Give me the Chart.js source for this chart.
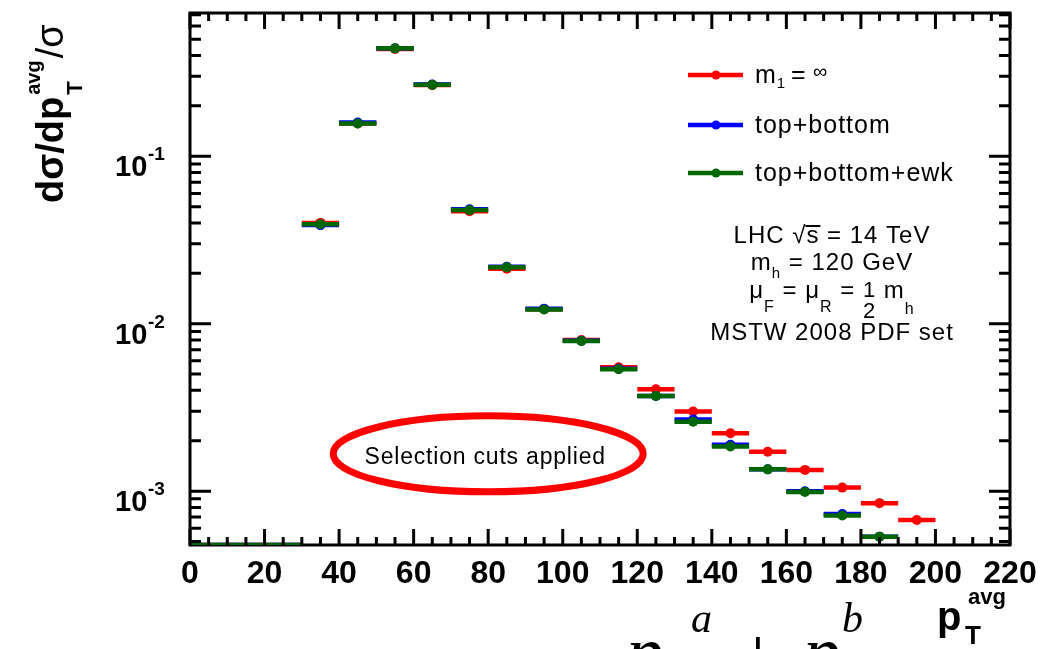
<!DOCTYPE html>
<html>
<head>
<meta charset="utf-8">
<script src="https://cdn.jsdelivr.net/npm/chart.js@4.4.1/dist/chart.umd.min.js"></script>
<style>
  html, body { margin: 0; padding: 0; background: #fff; }
  #wrap { width: 1050px; height: 649px; }
</style>
</head>
<body>
<div id="wrap"><canvas id="ptAvgChart" width="1050" height="649"></canvas></div>
<script>
const FONT = '"Liberation Sans", Arial, sans-serif';
const SERIF = '"Liberation Serif", "DejaVu Serif", serif';

// p_T^avg bins, 10 GeV wide
const binLow = [0, 10, 20, 30, 40, 50, 60, 70, 80, 90, 100, 110, 120, 130, 140, 150, 160, 170, 180, 190];
const BIN_WIDTH = 10;

// axis range
const Y_MIN = 4.77e-4;
const Y_MAX = 0.717;
const X_MAX = 220;

// first three bins sit on the lower edge of the frame
const mtInfinite = [4.77e-4, 4.77e-4, 4.77e-4, 0.0400, 0.157, 0.437, 0.266, 0.0470, 0.0213, 0.0122, 0.0080,
  0.0055, 0.00406, 0.00299, 0.00222, 0.00172, 0.00134, 0.00105, 0.000848, 0.000673];
const topBottom = [4.77e-4, 4.77e-4, 4.77e-4, 0.0388, 0.159, 0.442, 0.268, 0.0483, 0.0219, 0.0123, 0.0079,
  0.00538, 0.0037, 0.00268, 0.00189, 0.00135, 0.0010, 0.00073, 0.000535, null];
const topBottomEwk = [4.77e-4, 4.77e-4, 4.77e-4, 0.0393, 0.157, 0.441, 0.267, 0.0477, 0.0217, 0.01217, 0.00788,
  0.00534, 0.0037, 0.0026, 0.00185, 0.00135, 0.00099, 0.000715, 0.000535, null];

const xTickStep = 20;
const yDecades = [1e-3, 1e-2, 1e-1];
const yDecadeExponents = ['-3', '-2', '-1'];

const RED = '#ff0000';
const BLUE = '#0000ff';
const GREEN = '#006600';

// horizontal bin bars: one segment per bin, broken by a null point
function binBars(values) {
  const pts = [];
  values.forEach((v, i) => {
    if (v === null) return;
    pts.push({ x: binLow[i], y: v }, { x: binLow[i] + BIN_WIDTH, y: v }, { x: binLow[i] + BIN_WIDTH, y: null });
  });
  return pts;
}

function binCentres(values) {
  return values
    .map((v, i) => ({ x: binLow[i] + BIN_WIDTH / 2, y: v }))
    .filter(p => p.y !== null);
}

function barSet(values, color) {
  return {
    data: binBars(values),
    showLine: true,
    spanGaps: false,
    borderColor: color,
    borderWidth: 4.5,
    borderCapStyle: 'butt',
    pointRadius: 0,
    pointHoverRadius: 0
  };
}

function markerSet(values, color) {
  return {
    data: binCentres(values),
    showLine: false,
    backgroundColor: color,
    borderWidth: 0,
    pointRadius: ctx => (ctx.raw && ctx.raw.y <= Y_MIN ? 0 : 5),
    pointHoverRadius: 0
  };
}

// draws text pieces one after another, sub/superscripts via dy
function runsWidth(ctx, runs) {
  let w = 0;
  runs.forEach(r => {
    ctx.font = `${r.weight || ''} ${r.size}px ${FONT}`;
    if (r.num) {
      w += Math.max(ctx.measureText(r.num).width, ctx.measureText(r.den).width);
    } else {
      w += ctx.measureText(r.text).width;
    }
  });
  return w;
}

function drawRuns(ctx, cx, baseline, runs) {
  let x = cx - runsWidth(ctx, runs) / 2;
  runs.forEach(r => {
    ctx.font = `${r.weight || ''} ${r.size}px ${FONT}`;
    if (r.num) {
      const w = Math.max(ctx.measureText(r.num).width, ctx.measureText(r.den).width);
      ctx.textAlign = 'center';
      ctx.fillText(r.num, x + w / 2, baseline + r.numDy);
      ctx.fillText(r.den, x + w / 2, baseline + r.denDy);
      ctx.textAlign = 'left';
      x += w;
      return;
    }
    ctx.fillText(r.text, x, baseline + (r.dy || 0));
    const w = ctx.measureText(r.text).width;
    if (r.overline) {
      ctx.fillRect(x - 1, baseline - 18, w + 2, 2);
    }
    x += w;
  });
}

const rootFrame = {
  id: 'rootFrame',
  beforeDatasetsDraw(chart) {
    const { ctx, chartArea: a } = chart;
    ctx.save();
    ctx.strokeStyle = '#000';
    ctx.lineWidth = 3;
    ctx.strokeRect(a.left, a.top, a.right - a.left, a.bottom - a.top);
    ctx.restore();
  },
  afterDatasetsDraw(chart) {
    const { ctx, chartArea: a, scales: { x, y } } = chart;
    ctx.save();
    ctx.strokeStyle = '#000';
    ctx.lineWidth = 3;
    ctx.lineCap = 'butt';
    ctx.beginPath();
    // x ticks, inward, bottom and top
    for (let v = 0; v <= X_MAX; v += 5) {
      const px = x.getPixelForValue(v);
      const len = v % xTickStep === 0 ? 16 : 8;
      ctx.moveTo(px, a.bottom);
      ctx.lineTo(px, a.bottom - len);
      ctx.moveTo(px, a.top);
      ctx.lineTo(px, a.top + len);
    }
    // log y ticks, inward, left and right
    for (let e = -4; e <= 0; e++) {
      for (let m = 1; m <= 9; m++) {
        const v = m * Math.pow(10, e);
        if (v < Y_MIN || v > Y_MAX) continue;
        const py = y.getPixelForValue(v);
        const len = m === 1 ? 21 : 11;
        ctx.moveTo(a.left, py);
        ctx.lineTo(a.left + len, py);
        ctx.moveTo(a.right, py);
        ctx.lineTo(a.right - len, py);
      }
    }
    ctx.stroke();
    ctx.restore();
  },
  afterDraw(chart) {
    const { ctx, scales: { x, y } } = chart;
    ctx.save();
    ctx.fillStyle = '#000';
    ctx.textAlign = 'left';
    ctx.textBaseline = 'alphabetic';

    // y decade labels 10^n
    yDecades.forEach((v, i) => {
      const py = y.getPixelForValue(v);
      ctx.font = `bold 29px ${FONT}`;
      ctx.fillText('10', 115, py + 20);
      ctx.font = `bold 19px ${FONT}`;
      ctx.fillText(yDecadeExponents[i], 148, py + 4);
    });

    // y title, rotated
    ctx.save();
    ctx.translate(63, 203);
    ctx.rotate(-Math.PI / 2);
    ctx.font = `bold 38px ${FONT}`;
    ctx.fillText('dσ/dp', 0, 0);
    const mainW = ctx.measureText('dσ/dp').width;
    ctx.font = `bold 20px ${FONT}`;
    ctx.fillText('avg', mainW + 2, -23);
    const avgW = ctx.measureText('avg').width;
    ctx.font = `bold 22px ${FONT}`;
    ctx.fillText('T', mainW + 2, 19);
    ctx.font = `38px ${FONT}`;
    ctx.fillText('/σ', mainW + avgW + 4, 0);
    ctx.restore();

    // x title
    ctx.font = `bold 40px ${FONT}`;
    ctx.fillText('p', 937, 630);
    ctx.font = `bold 22px ${FONT}`;
    ctx.fillText('avg', 968, 604);
    ctx.font = `bold 26px ${FONT}`;
    ctx.fillText('T', 965, 644);

    // cut-off formula at the bottom edge
    ctx.font = `italic 75px ${SERIF}`;
    ctx.fillText('p', 626, 677);
    ctx.fillText('p', 803, 677);
    ctx.textAlign = 'center';
    ctx.font = `75px ${SERIF}`;
    ctx.fillText('+', 758, 679);
    ctx.textAlign = 'left';
    ctx.font = `italic 42px ${SERIF}`;
    ctx.fillText('a', 691, 632);
    ctx.fillText('b', 842, 632);

    // legend
    const legendRows = [
      { color: RED, y: 75 },
      { color: BLUE, y: 125 },
      { color: GREEN, y: 173 }
    ];
    legendRows.forEach(row => {
      ctx.strokeStyle = row.color;
      ctx.fillStyle = row.color;
      ctx.lineWidth = 4.5;
      ctx.beginPath();
      ctx.moveTo(688, row.y);
      ctx.lineTo(743, row.y);
      ctx.stroke();
      ctx.beginPath();
      ctx.arc(716, row.y, 4.5, 0, Math.PI * 2);
      ctx.fill();
    });
    ctx.fillStyle = '#000';
    ctx.letterSpacing = '1px';
    ctx.font = `25px ${FONT}`;
    ctx.fillText('m', 755, 83);
    const mw = ctx.measureText('m').width;
    ctx.font = `15px ${FONT}`;
    ctx.fillText('1', 755 + mw, 88);
    ctx.font = `25px ${FONT}`;
    ctx.fillText('=', 791, 83);
    ctx.font = `20px ${FONT}`;
    ctx.fillText('∞', 813, 78);
    ctx.font = `25px ${FONT}`;
    ctx.fillText('top+bottom', 755, 133);
    ctx.fillText('top+bottom+ewk', 755, 181);

    // run conditions
    const cx = 832;
    drawRuns(ctx, cx, 243, [
      { text: 'LHC ', size: 24 },
      { text: '√', size: 24 },
      { text: 's', size: 24, overline: true },
      { text: ' = 14 TeV', size: 24 }
    ]);
    drawRuns(ctx, cx, 270, [
      { text: 'm', size: 24 },
      { text: 'h', size: 15, dy: 8 },
      { text: ' = 120 GeV', size: 24 }
    ]);
    drawRuns(ctx, cx, 298, [
      { text: 'μ', size: 24 },
      { text: 'F', size: 16, dy: 14 },
      { text: ' = μ', size: 24 },
      { text: 'R', size: 16, dy: 14 },
      { text: ' = ', size: 24 },
      { num: '1', den: '2', size: 22, numDy: -1, denDy: 20 },
      { text: ' m', size: 24 },
      { text: 'h', size: 16, dy: 16 }
    ]);
    drawRuns(ctx, cx, 340, [
      { text: 'MSTW 2008 PDF set', size: 24 }
    ]);

    // selection note
    const ex = x.getPixelForValue(80);
    const ey = y.getPixelForValue(1.67e-3);
    ctx.strokeStyle = RED;
    ctx.lineWidth = 7;
    ctx.beginPath();
    ctx.ellipse(ex, ey, 155, 38, 0, 0, Math.PI * 2);
    ctx.stroke();
    ctx.fillStyle = '#000';
    ctx.letterSpacing = '0.8px';
    ctx.font = `23px ${FONT}`;
    ctx.textAlign = 'center';
    ctx.fillText('Selection cuts applied', ex - 3, ey + 10);
    ctx.restore();
  }
};

// eslint-disable-next-line no-new
new Chart(document.getElementById('ptAvgChart'), {
  type: 'scatter',
  data: {
    // first dataset is drawn last, so green sits on top
    datasets: [
      markerSet(topBottomEwk, GREEN),
      barSet(topBottomEwk, GREEN),
      markerSet(topBottom, BLUE),
      barSet(topBottom, BLUE),
      markerSet(mtInfinite, RED),
      barSet(mtInfinite, RED)
    ]
  },
  options: {
    responsive: false,
    animation: false,
    devicePixelRatio: 1,
    layout: { padding: { top: 13, right: 40, left: 0, bottom: 0 } },
    plugins: {
      legend: { display: false },
      tooltip: { enabled: false }
    },
    scales: {
      x: {
        type: 'linear',
        min: 0,
        max: X_MAX,
        grid: { display: false, drawTicks: false },
        border: { display: false },
        ticks: {
          stepSize: xTickStep,
          autoSkip: false,
          maxRotation: 0,
          padding: 10,
          color: '#000',
          font: { family: FONT, size: 32, weight: 'bold' }
        },
        afterFit: scale => { scale.height = 104; }
      },
      y: {
        type: 'logarithmic',
        min: Y_MIN,
        max: Y_MAX,
        grid: { display: false, drawTicks: false },
        border: { display: false },
        ticks: { display: false },
        afterFit: scale => { scale.width = 190; }
      }
    }
  },
  plugins: [rootFrame]
});
</script>
</body>
</html>
